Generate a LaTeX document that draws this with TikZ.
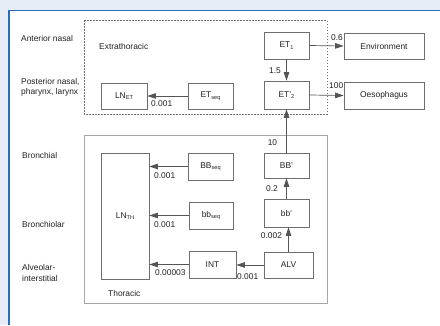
\documentclass[tikz,border=0pt]{standalone}
\usepackage{fontspec}
\setmainfont{Liberation Sans}
\usetikzlibrary{arrows.meta}
\definecolor{pagebg}{HTML}{E6EDF6}
\definecolor{frameblue}{HTML}{2B6CB8}
\definecolor{boxgray}{HTML}{6E6E6E}
\definecolor{linegray}{HTML}{555555}
\definecolor{txt}{HTML}{222222}
\newcommand\mysub[1]{\raisebox{-0.35ex}{\fontsize{5.6}{6}\selectfont #1}}
\tikzset{
  cbox/.style={draw=boxgray, line width=0.7pt, inner sep=0pt, text=txt},
  arr/.style={draw=linegray, line width=0.7pt, -{Triangle[length=8.5pt,width=5.5pt]}},
  lab/.style={inner sep=0pt, text=txt},
}
\begin{document}
\begin{tikzpicture}[x=1pt, y=-1pt, font=\fontsize{8.4}{10}\selectfont]
\useasboundingbox (0,0) rectangle (440,325);
% page frame
\fill[pagebg] (0,0) rectangle (440,325);
\fill[white] (9,11) rectangle (440,325);
\draw[frameblue, line width=1.8pt] (9,325) -- (9,10.5) -- (440,10.5);

% region boxes
\draw[boxgray, line width=0.6pt, dash pattern=on 1.5pt off 1.5pt] (84,20) rectangle (327,114);
\draw[gray!70, line width=1pt] (84,135) rectangle (327,303);

% left labels
\node[lab, anchor=west] (an) at (21,38) {Anterior nasal};
\node[lab, anchor=west] (pn1) at (21,81.5) {Posterior nasal,};
\node[lab, anchor=west] (pn2) at (21,92.5) {pharynx, larynx};
\node[lab, anchor=west] (br) at (22,155) {Bronchial};
\node[lab, anchor=west] (bl) at (22,224.5) {Bronchiolar};
\node[lab, anchor=west] (al1) at (22,267) {Alveolar-};
\node[lab, anchor=west] (al2) at (22,278) {interstitial};
\node[lab, anchor=west] (extra) at (99,46) {Extrathoracic};
\node[lab, anchor=west] (thor) at (108,293) {Thoracic};

% compartments
\node[cbox, minimum width=45pt, minimum height=27pt] (ET1) at (286.5,45.5) {ET\mysub{1}};
\node[cbox, minimum width=45pt, minimum height=28pt] (ET2) at (286.5,95) {ET'\mysub{2}};
\node[cbox, minimum width=80pt, minimum height=26pt] (env) at (384,46) {Environment};
\node[cbox, minimum width=80pt, minimum height=27pt] (oes) at (384,95.5) {Oesophagus};
\node[cbox, minimum width=46pt, minimum height=26pt] (LNET) at (124,96) {LN\mysub{ET}};
\node[cbox, minimum width=45pt, minimum height=26pt] (ETseq) at (210.5,96) {ET\mysub{seq}};
\node[cbox, minimum width=45pt, minimum height=27pt] (BBseq) at (210.5,166.5) {BB\mysub{seq}};
\node[cbox, minimum width=45pt, minimum height=25pt] (BBp) at (286.5,165.5) {BB'};
\node[cbox, minimum width=44pt, minimum height=27pt] (bbseq) at (211,215.5) {bb\mysub{seq}};
\node[cbox, minimum width=45pt, minimum height=28pt] (bbp) at (286.5,213) {bb'};
\node[cbox, minimum width=47pt, minimum height=27pt] (INT) at (212.5,264.5) {INT};
\node[cbox, minimum width=49pt, minimum height=26pt] (ALV) at (288.5,265) {ALV};
\node[cbox, minimum width=48pt, minimum height=126pt] (LNTH) at (125,216) {LN\mysub{TH}};

% connectors
\draw[arr] (ET1.east) -- (env.west);
\draw[arr] (ET2.east) -- (oes.west);
\draw[arr] (ET1.south) -- (ET2.north);
\draw[arr] (ETseq.west) -- (LNET.east);
\draw[arr] (BBp.north) -- (ET2.south);
\draw[arr] (bbp.north) -- (BBp.south);
\draw[arr] ([xshift=2pt]bbp.south |- ALV.north) -- ([xshift=2pt]bbp.south);
\draw[arr] (ALV.west) -- (ALV.west -| INT.east);
\draw[arr] (BBseq.west) -- (BBseq.west -| LNTH.east);
\draw[arr] (bbseq.west) -- (bbseq.west -| LNTH.east);
\draw[arr] (INT.west) -- (INT.west -| LNTH.east);

% rate labels
\node[lab, anchor=west] (r1) at (331,38) {0.6};
\node[lab, anchor=west] (r2) at (329,86) {100};
\node[lab] (r3) at (275,71) {1.5};
\node[lab] (r4) at (272.5,143) {10};
\node[lab, anchor=west] (r5) at (151,104) {0.001};
\node[lab, anchor=west] (r6) at (154,175.5) {0.001};
\node[lab, anchor=west] (r7) at (154,225) {0.001};
\node[lab, anchor=west] (r8) at (155,273) {0.00003};
\node[lab, anchor=west] (r9) at (237,277) {0.001};
\node[lab] (r10) at (271.5,236) {0.002};
\node[lab] (r11) at (272,189) {0.2};
\end{tikzpicture}
\end{document}
